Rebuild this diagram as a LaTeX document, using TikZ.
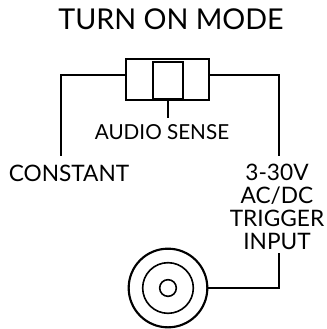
\documentclass[tikz,border=0pt]{standalone}
\usepackage{fontspec}
\setmainfont{Lato}
\begin{document}
\begin{tikzpicture}[x=0.75pt, y=-0.75pt, line width=1pt,
  lbl/.style={inner sep=0pt, font=\fontsize{17}{17.25}\selectfont, align=center}]
\useasboundingbox (0,0) rectangle (326,329);

\node[lbl, font=\fontsize{21.5}{22}\selectfont](title) at (171,19) {TURN ON MODE};

% switch
\node[draw, minimum width=62.25pt, minimum height=30.75pt, inner sep=0pt](sw) at (167.5,79.5) {};
\node[draw, line width=1.6pt, minimum width=22.5pt, minimum height=27.5pt, inner sep=0pt](knob) at (168,80.5) {};

\node[lbl, font=\fontsize{15.5}{16}\selectfont](audio) at (162,132) {AUDIO SENSE};
\node[lbl](const) at (69,173.5) {CONSTANT};
\node[lbl](trig) at (277,206.5) {3-30V\\AC/DC\\TRIGGER\\INPUT};

% jack
\node[circle, draw, line width=1.6pt, minimum size=59pt, inner sep=0pt](jack) at (168,288) {};
\node[circle, draw, line width=1.2pt, minimum size=38pt, inner sep=0pt](ring) at (168,288) {};
\node[circle, draw, line width=1.2pt, minimum size=12.5pt, inner sep=0pt](pin) at (168,288) {};

\coordinate (lt) at (61,156);
\coordinate (rt) at (279,156);
\coordinate (rb) at (279,253);

\draw ([yshift=3.4pt]sw.west) -| (lt);
\draw ([yshift=3.4pt]sw.east) -| (rt);
\draw (knob.south) -- ++(0,18);
\draw (jack.east) -| (rb);

\end{tikzpicture}
\end{document}
